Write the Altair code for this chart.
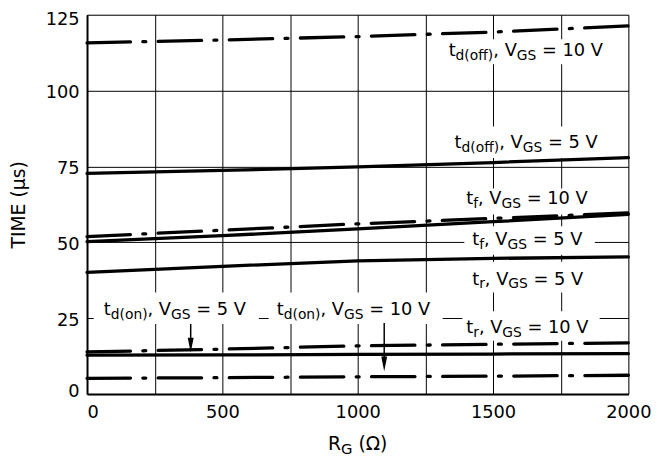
import altair as alt
import pandas as pd

# ---------------- data ----------------
x_vals = [0, 500, 1000, 1500, 2000]
td_off_10 = [115.7, 116.7, 117.8, 119.3, 121.3]
td_off_5 = [72.7, 73.7, 74.9, 76.3, 77.9]
tf_10 = [51.9, 54.0, 56.1, 57.9, 59.7]
tf_5 = [50.2, 52.2, 54.4, 56.8, 59.2]
tr_5 = [40.1, 42.1, 43.9, 44.7, 45.2]
tr_10 = [13.9, 14.8, 15.9, 16.4, 16.9]
td_on_5 = [12.8, 12.9, 13.1, 13.2, 13.3]
td_on_10 = [5.2, 5.4, 5.7, 5.9, 6.2]

series = {
    "td_off_10": (td_off_10, "dashdot"),
    "td_off_5": (td_off_5, "solid"),
    "tf_10": (tf_10, "dashdot"),
    "tf_5": (tf_5, "solid"),
    "tr_5": (tr_5, "solid"),
    "tr_10": (tr_10, "dashdot"),
    "td_on_5": (td_on_5, "solid"),
    "td_on_10": (td_on_10, "dashdot"),
}

grid_x = [0, 250, 500, 750, 1000, 1250, 1500, 1750, 2000]
grid_y = [0, 12.5, 25, 37.5, 50, 62.5, 75, 87.5, 100, 112.5, 125]

# annotation labels
label_x = [1336, 1358, 1401, 1423, 1423, 1401, 62, 701]
label_y = [111.3, 81.1, 62.5, 49.2, 36.1, 20.2, 26.0, 26.0]
label_sub = ["d(off)", "d(off)", "f", "f", "r", "r", "d(on)", "d(on)"]
label_v = ["10", "5", "10", "5", "5", "10", "5", "10"]

box_x1 = [1303, 1321, 1376, 1394, 1394, 1387, 25, 671]
box_x2 = [1949, 1934, 1894, 1876, 1876, 1894, 635, 1314]
box_y1 = [108.7, 77.8, 59.2, 45.9, 33.5, 17.6, 23.1, 23.1]
box_y2 = [116.9, 88.2, 67.7, 55.3, 43.6, 27.3, 33.5, 33.5]

arrow_x = [383, 1098]
arrow_top = [23.1, 23.4]
arrow_tip = [13.7, 7.5]

# ---------------- layout ----------------
PW, PH = 548, 384
DX = 2000 / PW
DY = 125 / PH
FONT = "DejaVu Sans"
FS_MAIN, FS_SUB, SUB_DY = 18, 14, 4

W = {'t': .392, 'd': .635, '(': .390, ')': .390, 'o': .612, 'f': .352, 'n': .634,
     'r': .411, ',': .318, ' ': .318, 'V': .684, 'G': .776, 'S': .635, '=': .838,
     '0': .636, '1': .636, '5': .636, 'R': .695, 'Ω': .770}


def tw(s, fs):
    return sum(W.get(c, .6) for c in s) * fs


rows = []
for name, (vals, style) in series.items():
    for xv, yv in zip(x_vals, vals):
        rows.append(dict(series=name, style=style, x=xv, y=yv))
lines_df = pd.DataFrame(rows)

seg_rows = []
for i in range(len(label_x)):
    segs = [("t", 0), (label_sub[i], 1), (", V", 0), ("GS", 1),
            (" = " + label_v[i] + " V", 0)]
    cur = 0.0
    for s, sub in segs:
        fs = FS_SUB if sub else FS_MAIN
        lead = len(s) - len(s.lstrip(" "))
        seg_rows.append(dict(txt=s.strip(), x=label_x[i] + (cur + tw(" " * lead, fs)) * DX,
                             y=label_y[i], sub=sub))
        cur += tw(s, fs)
seg_df = pd.DataFrame(seg_rows)

box_df = pd.DataFrame(dict(x=box_x1, x2=box_x2, y=box_y1, y2=box_y2))
arrow_df = pd.DataFrame(dict(x=arrow_x, y=arrow_top,
                             y2=[t + 7.5 * DY for t in arrow_tip],
                             yh=[t + 7.5 * DY for t in arrow_tip]))

# x-axis title R_G (Ω)
XT_MAIN, XT_SUB = 19, 15
xt_segs = [("R", 0), ("G", 1), (" (Ω)", 0)]
xt_total = sum(tw(s, XT_SUB if sub else XT_MAIN) for s, sub in xt_segs)
cur = 0.0
xt_rows = []
for s, sub in xt_segs:
    fs = XT_SUB if sub else XT_MAIN
    lead = len(s) - len(s.lstrip(" "))
    xt_rows.append(dict(txt=s.strip(), x=1000 - xt_total / 2 * DX + (cur + tw(" " * lead, fs)) * DX, sub=sub))
    cur += tw(s, fs)
xt_df = pd.DataFrame(xt_rows)

# ---------------- encodings ----------------
xaxis = alt.Axis(
    title="", values=grid_x,
    labelExpr="datum.value % 500 == 0 ? format(datum.value, 'd') : ''",
    grid=True, gridColor="black", gridWidth=1, gridOpacity=1,
    ticks=False, tickSize=0, domainColor="black", domainWidth=2,
    labelFont=FONT, labelFontSize=18, labelColor="black", labelPadding=10,
    labelFlush=False, labelOverlap=False,
    labelAlign={"condition": {"test": "datum.value == 0", "value": "left"}, "value": "center"},
)
yaxis = alt.Axis(
    title="TIME (μs)", values=grid_y,
    labelExpr="datum.value % 25 == 0 ? format(datum.value, 'd') : ''",
    grid=True, gridColor="black", gridWidth=1, gridOpacity=1,
    ticks=False, tickSize=0, domainColor="black", domainWidth=2,
    labelFont=FONT, labelFontSize=18, labelColor="black", labelPadding=8,
    labelFlush=False, labelOverlap=False,
    labelOffset={"condition": {"test": "datum.value == 125", "value": 4.5}, "value": 2},
    labelBaseline={"condition": {"test": "datum.value == 0", "value": "alphabetic"}, "value": "middle"},
    titleFont=FONT, titleFontSize=19, titleFontWeight="normal", titleColor="black",
    titleX=-69, titleY=192, titleAngle=270, titleAlign="center", titleBaseline="middle",
)

X = alt.X("x:Q", scale=alt.Scale(domain=[0, 2000], nice=False, zero=False), axis=xaxis)
Y = alt.Y("y:Q", scale=alt.Scale(domain=[0, 125], nice=False, zero=False), axis=yaxis)

boxes = alt.Chart(box_df).mark_rect(color="white", opacity=1).encode(
    x=X, x2=alt.X2("x2:Q"), y=Y, y2=alt.Y2("y2:Q"))

solid = alt.Chart(lines_df).transform_filter("datum.style == 'solid'").mark_line(
    color="black", strokeWidth=3.3, strokeCap="round").encode(x=X, y=Y, detail="series:N")

dashdot = alt.Chart(lines_df).transform_filter("datum.style == 'dashdot'").mark_line(
    color="black", strokeWidth=3.3, strokeCap="round", strokeDash=[44, 12.5, 3, 12.5]
).encode(x=X, y=Y, detail="series:N")

arrow_lines = alt.Chart(arrow_df).mark_rule(color="black", strokeWidth=1.5).encode(
    x=X, y=Y, y2=alt.Y2("y2:Q"))
arrow_heads = alt.Chart(arrow_df).mark_point(
    shape="M-0.4,-1L0.4,-1L0,1Z", filled=True, color="black", opacity=1, size=225, strokeWidth=0
).encode(x=X, y=alt.Y("yh:Q"))

txt_main = alt.Chart(seg_df).transform_filter("datum.sub == 0").mark_text(
    font=FONT, fontSize=FS_MAIN, color="black", align="left", baseline="alphabetic"
).encode(x=X, y=Y, text="txt:N")
txt_sub = alt.Chart(seg_df).transform_filter("datum.sub == 1").mark_text(
    font=FONT, fontSize=FS_SUB, color="black", align="left", baseline="alphabetic", dy=SUB_DY
).encode(x=X, y=Y, text="txt:N")

XT_Y = 441
xt_main = alt.Chart(xt_df).transform_filter("datum.sub == 0").mark_text(
    font=FONT, fontSize=XT_MAIN, color="black", align="left", baseline="alphabetic"
).encode(x=X, y=alt.value(XT_Y), text="txt:N")
xt_sub = alt.Chart(xt_df).transform_filter("datum.sub == 1").mark_text(
    font=FONT, fontSize=XT_SUB, color="black", align="left", baseline="alphabetic", dy=4
).encode(x=X, y=alt.value(XT_Y), text="txt:N")

chart = alt.layer(
    boxes, solid, dashdot, arrow_lines, arrow_heads, txt_main, txt_sub, xt_main, xt_sub
).properties(
    width=PW, height=PH,
    autosize=alt.AutoSizeParams(type="none"),
    padding={"left": 80, "top": 4, "right": 29, "bottom": 70},
).configure_view(strokeWidth=0).configure(background="white")

chart.save("out.html", embed_options={"renderer": "svg", "actions": False})
